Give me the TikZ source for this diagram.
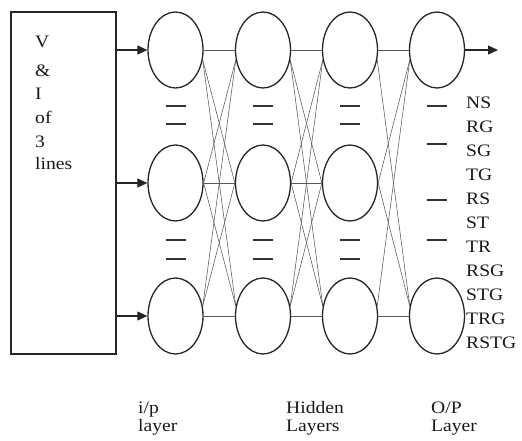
\documentclass[tikz,border=0pt]{standalone}
\usepackage{fontspec}
\setmainfont{Liberation Serif}[FakeStretch=1.12]
\usetikzlibrary{shapes.geometric,arrows.meta}
\begin{document}
\begin{tikzpicture}[x=1pt,y=-1pt,
 neuron/.style={ellipse,draw=black!85,line width=1.3pt,minimum width=55pt,minimum height=76pt,inner sep=0pt},
 link/.style={line width=0.55pt,draw=black!65},
 feed/.style={line width=1.1pt,draw=black!85,-{Triangle[length=10pt,width=9pt]}},
 dsh/.style={line width=1.8pt,draw=black!80},
 lbl/.style={anchor=base west,inner sep=0pt,font=\fontsize{17.5}{20}\selectfont,text=black!90}]
\useasboundingbox (0,0) rectangle (522,440);
% input box
\node[draw=black!85,line width=1.4pt,minimum width=105pt,minimum height=342pt,inner sep=0pt] (box) at (63.5,183) {};
\node[lbl] (t1) at (35,47) {V};
\node[lbl] (t2) at (35,76) {\&};
\node[lbl] (t3) at (35,99) {I};
\node[lbl] (t4) at (35,123) {of};
\node[lbl] (t5) at (35,147) {3};
\node[lbl] (t6) at (35,169) {lines};
% neurons
\foreach \c/\x in {1/175.5,2/263,3/350} {
  \foreach \r/\y in {1/50,2/183,3/316} {
    \node[neuron] (n\c\r) at (\x,\y) {};
  }
}
\node[neuron] (n41) at (437,50) {};
\node[neuron] (n43) at (437,316) {};
% input arrows
\foreach \r in {1,2,3} {
  \draw[feed] (box.east |- n1\r) -- (n1\r.west);
}
% output arrow
\coordinate (out) at (498,50);
\draw[feed] (n41.east) -- (out);
% connections
\foreach \a/\b in {1/2,2/3} {
  \draw[link] (n\a1.east) -- (n\b1.west);
  \draw[link] (n\a2.east) -- (n\b2.west);
  \draw[link] (n\a3.east) -- (n\b3.west);
  \draw[link] (n\a1.-20) -- (n\b2.west);
  \draw[link] (n\a1.-20) -- (n\b3.160);
  \draw[link] (n\a2.east) -- (n\b1.200);
  \draw[link] (n\a2.east) -- (n\b3.160);
  \draw[link] (n\a3.20) -- (n\b1.200);
  \draw[link] (n\a3.20) -- (n\b2.west);
}
\draw[link] (n31.east) -- (n41.west);
\draw[link] (n33.east) -- (n43.west);
\draw[link] (n31.-20) -- (n43.160);
\draw[link] (n32.east) -- (n41.200);
\draw[link] (n32.east) -- (n43.160);
\draw[link] (n33.20) -- (n41.200);
% dashes
\foreach \x in {176,263,350} {
  \foreach \y in {106,124,240,259} {
    \draw[dsh] (\x-10,\y) -- (\x+10,\y);
  }
}
\foreach \y in {106,144,200,240} {
  \draw[dsh] (427,\y) -- (447,\y);
}
% output classes
\foreach \i/\s in {0/NS,1/RG,2/SG,3/TG,4/RS,5/ST,6/TR,7/RSG,8/STG,9/TRG,10/RSTG} {
  \node[lbl] (c\i) at (466,108+24*\i) {\s};
}
% layer captions
\node[lbl] (l1a) at (138,413) {i/p};
\node[lbl] (l1b) at (138,431) {layer};
\node[lbl] (l2a) at (286,413) {Hidden};
\node[lbl] (l2b) at (286,431) {Layers};
\node[lbl] (l3a) at (431,413) {O/P};
\node[lbl] (l3b) at (431,431) {Layer};
\end{tikzpicture}
\end{document}
